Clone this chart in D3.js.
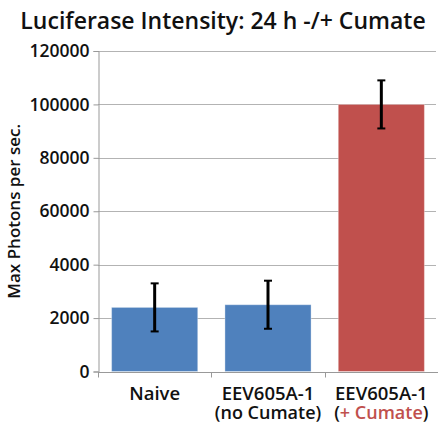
<!DOCTYPE html>
<html>
<head>
<meta charset="utf-8">
<script src="https://cdn.jsdelivr.net/npm/d3@7"></script>
<style>
  body { margin: 0; background: #fff; }
  svg text { font-family: "Open Sans", sans-serif; fill: #111; }
</style>
</head>
<body>
<div id="chart"></div>
<script>
const categories = ["Naive", "EEV605A-1 (no Cumate)", "EEV605A-1 (+ Cumate)"];
const values = [24000, 25000, 100000];
const errLow = [15000, 16000, 91000];
const errHigh = [33000, 34000, 109000];
const barColors = ["#4f81bd", "#4f81bd", "#c0504d"];
const tickValues = [0, 20000, 40000, 60000, 80000, 100000, 120000];
const tickLabels = ["0", "2000", "4000", "60000", "80000", "100000", "120000"];

const width = 438, height = 433;
const margin = {top: 51, right: 0, bottom: 62, left: 98};

const svg = d3.select("#chart").append("svg")
    .attr("width", width)
    .attr("height", height);

const x = d3.scaleBand()
    .domain(categories)
    .range([margin.left, width - margin.right])
    .paddingInner(0.24)
    .paddingOuter(0.12);

const y = d3.scaleLinear()
    .domain([0, 120000])
    .range([height - margin.bottom + 0.5, margin.top]);

// Title
svg.append("text")
    .attr("x", 223)
    .attr("y", 29)
    .attr("text-anchor", "middle")
    .style("font-size", "23px")
    .style("font-weight", 600)
    .text("Luciferase Intensity: 24 h -/+ Cumate");

// Gridlines
svg.append("g")
    .selectAll("line")
    .data(tickValues.slice(1))
    .enter()
    .append("line")
    .attr("x1", margin.left)
    .attr("x2", 436)
    .attr("y1", d => Math.round(y(d)) + 0.5)
    .attr("y2", d => Math.round(y(d)) + 0.5)
    .style("stroke", "#b3b3b3")
    .style("stroke-width", 1);

// Bars
svg.selectAll(".bar")
    .data(values)
    .enter()
    .append("rect")
    .attr("class", "bar")
    .attr("x", (d, i) => x(categories[i]))
    .attr("y", d => y(d))
    .attr("width", x.bandwidth())
    .attr("height", d => y(0) - y(d))
    .attr("fill", (d, i) => barColors[i])
    .style("stroke", "rgba(255,255,255,0.35)")
    .style("stroke-width", 1);

// Y axis
const yAxis = d3.axisLeft(y)
    .tickValues(tickValues)
    .tickFormat((d, i) => tickLabels[i])
    .tickSize(5)
    .tickPadding(4);

const yg = svg.append("g")
    .attr("transform", `translate(${margin.left + 0.5},0)`)
    .call(yAxis);
yg.select(".domain").style("stroke", "#999");
yg.selectAll(".tick line").style("stroke", "#999");
yg.selectAll(".tick text")
    .style("font-size", "17.5px")
    .style("font-weight", 600)
    .style("fill", "#111");

// X axis line + category ticks
const xAxisY = Math.round(y(0)) + 0.5;
svg.append("line")
    .attr("x1", margin.left)
    .attr("x2", width)
    .attr("y1", xAxisY)
    .attr("y2", xAxisY)
    .style("stroke", "#999");

const bandStep = x.step();
svg.selectAll(".xtick")
    .data(categories)
    .enter()
    .append("line")
    .attr("x1", d => Math.round(x(d) - bandStep * x.paddingInner() / 2) + 0.5)
    .attr("x2", d => Math.round(x(d) - bandStep * x.paddingInner() / 2) + 0.5)
    .attr("y1", xAxisY)
    .attr("y2", xAxisY + 5)
    .style("stroke", "#999");

// Error bars
const eb = svg.selectAll(".err")
    .data(values)
    .enter()
    .append("g")
    .attr("class", "err")
    .style("stroke", "#000")
    .style("stroke-width", 3);

eb.append("line")
    .attr("x1", (d, i) => x(categories[i]) + x.bandwidth() / 2)
    .attr("x2", (d, i) => x(categories[i]) + x.bandwidth() / 2)
    .attr("y1", (d, i) => y(errLow[i]))
    .attr("y2", (d, i) => y(errHigh[i]));
eb.append("line")
    .attr("x1", (d, i) => x(categories[i]) + x.bandwidth() / 2 - 4)
    .attr("x2", (d, i) => x(categories[i]) + x.bandwidth() / 2 + 4)
    .attr("y1", (d, i) => y(errHigh[i]))
    .attr("y2", (d, i) => y(errHigh[i]))
    .style("stroke-width", 2);
eb.append("line")
    .attr("x1", (d, i) => x(categories[i]) + x.bandwidth() / 2 - 4)
    .attr("x2", (d, i) => x(categories[i]) + x.bandwidth() / 2 + 4)
    .attr("y1", (d, i) => y(errLow[i]))
    .attr("y2", (d, i) => y(errLow[i]))
    .style("stroke-width", 2);

// Category labels
const labelLines = [
    [[{t: "Naive"}]],
    [[{t: "EEV605A-1"}], [{t: "(no Cumate)"}]],
    [[{t: "EEV605A-1"}], [{t: "("}, {t: "+ Cumate", c: "#c0504d"}, {t: ")"}]]
];
categories.forEach((cat, i) => {
    labelLines[i].forEach((line, j) => {
        const t = svg.append("text")
            .attr("x", x(cat) + x.bandwidth() / 2)
            .attr("y", 400 + j * 19)
            .attr("text-anchor", "middle")
            .style("font-size", j === 0 ? "18.5px" : "18px")
            .style("font-weight", 600);
        line.forEach(part => {
            t.append("tspan")
                .style("fill", part.c || "#111")
                .text(part.t);
        });
    });
});

// Y label
svg.append("text")
    .attr("transform", `translate(20,${(y(0) + y(120000)) / 2}) rotate(-90)`)
    .attr("text-anchor", "middle")
    .style("font-size", "17px")
    .style("font-weight", 600)
    .text("Max Photons per sec.");
</script>
</body>
</html>
